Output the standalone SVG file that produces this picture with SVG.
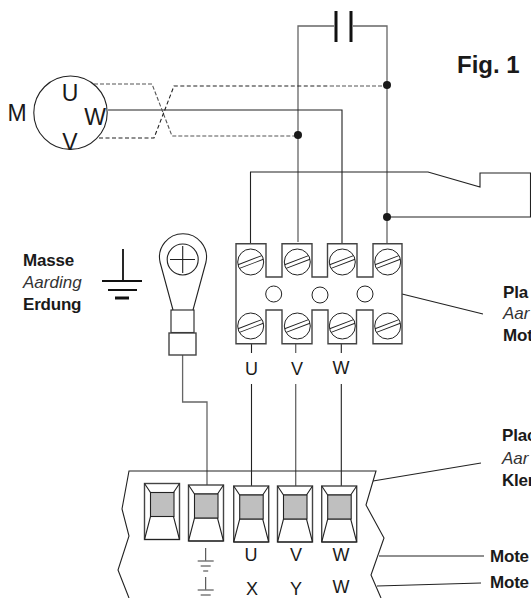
<svg xmlns="http://www.w3.org/2000/svg" xmlns:xlink="http://www.w3.org/1999/xlink" width="531" height="598" viewBox="0 0 531 598">
<style>
text{font-family:"Liberation Sans",Arial,sans-serif;fill:#1a1a1a}
.m{font-size:18px;text-anchor:middle}.c{font-size:23px;text-anchor:middle}
.b{font-size:17px;font-weight:bold;letter-spacing:-.2px}.i{font-size:17px;font-style:italic;fill:#333}
.w,.g,.d,.e{fill:none;stroke:#222;stroke-width:1.1}
.g{stroke:#666;stroke-width:1.3}.d{stroke:#222;stroke-dasharray:4 2.5}.e{stroke:#555;stroke-dasharray:4 2}
.s{fill:#fff;stroke:#222;stroke-width:1}
.sl{fill:none;stroke:#222;stroke-width:.9}
.dot{fill:#1a1a1a}
.in{fill:#bfbfbf;stroke:#222;stroke-width:1.1}
.o{fill:#fff;stroke:#444;stroke-width:1.4}
</style>
<defs>
<g id="screw"><circle class="s" r="13"/><g transform="rotate(-21)"><path class="sl" d="M-12.8-2H12.8M-12.8 2H12.8"/></g></g>
<g id="gnd"><path class="sl" d="M0 0V12.5M-8 13H8M-5 18H5M-2.500 23H2.500"/></g>
<g id="conn"><rect class="o" width="35" height="56"/><path class="w" d="M0 0L6 9H29L35 0M0 56L6 33H29L35 56M0 56H35"/><rect class="in" x="6" y="9" width="23.500" height="24"/></g>
</defs>
<g id="connectors">
<path class="g" d="M298 242V26H334M353 26H387V243"/>
<path class="w" d="M108 110H342V243"/>
<path class="w" d="M250.500 243V172H428L480 187V173H530.500V217H387"/>
<path class="e" d="M94 84H152L172 136H298"/>
<path class="d" d="M99 138H154L174 86H330"/>
<path class="e" d="M330 86H387"/>
<path class="w" d="M251.500 343V353M251.500 384V491"/>
<path class="g" d="M295.700 343V353M295.700 384V491"/>
<path class="w" d="M341.300 343V353M341.300 384V490"/>
<path class="g" d="M182.600 355V402H207V491"/>
<path class="w" d="M402 294L483 314M373 481L481 463M379 556H484M377 586L481 583"/>
</g>
<g id="capacitor"><path d="M336 11V42M351 11V42" fill="none" stroke="#111" stroke-width="3"/></g>
<g id="junctions"><circle class="dot" cx="298" cy="135" r="4"/><circle class="dot" cx="387" cy="85" r="4"/><circle class="dot" cx="387" cy="217" r="4"/></g>
<g id="motor"><circle class="w" cx="70.500" cy="112.700" r="36.700"/><text class="c" x="70" y="101">U</text><text class="c" x="95" y="125">W</text><text class="c" x="70" y="150">V</text><text class="c" x="17" y="121">M</text></g>
<text x="457" y="72.500" font-size="24" font-weight="bold">Fig. 1</text>
<g id="ground"><path d="M123 249V281M102 281H142M108 290H137" fill="none" stroke="#111" stroke-width="1.800"/><path d="M115 298H129" stroke="#111" stroke-width="3"/></g>
<g id="ground-label"><text class="b" x="23" y="266">Masse</text><text class="i" x="23" y="288">Aarding</text><text class="b" x="23" y="310">Erdung</text></g>
<g id="lug"><path class="w" d="M173 310L160 262A23.500 23.500 0 1 1 206 262L193 310"/><circle class="w" cx="182.700" cy="259.500" r="15.500"/><path class="w" d="M182.700 246V273M170 259.500H195"/><rect class="w" x="171" y="310" width="23" height="22.500"/><rect class="o" x="169" y="333" width="27" height="22"/></g>
<g id="terminal-block">
<path class="o" d="M236 243.700H266V277H282V243.700H312V277H327.500V243.700H357V277H373V243.700H402V343.700H373V310H356.500V343.700H328V310H312V343.700H282V310H266V343.700H236Z"/>
<use xlink:href="#screw" href="#screw" x="250.700" y="262"/><use xlink:href="#screw" href="#screw" x="297.300" y="262"/><use xlink:href="#screw" href="#screw" x="342.300" y="262"/><use xlink:href="#screw" href="#screw" x="387.700" y="262"/>
<use xlink:href="#screw" href="#screw" x="250.700" y="326"/><use xlink:href="#screw" href="#screw" x="297.300" y="326"/><use xlink:href="#screw" href="#screw" x="342.300" y="326"/><use xlink:href="#screw" href="#screw" x="387.700" y="326"/>
<circle class="s" cx="273.700" cy="294" r="8"/><circle class="s" cx="320" cy="295" r="8"/><circle class="s" cx="365" cy="294" r="8"/>
<text class="m" x="251.500" y="375">U</text><text class="m" x="297" y="375">V</text><text class="m" x="341" y="374">W</text>
</g>
<g id="block-label"><text class="b" x="503" y="298">Pla</text><text class="i" x="503" y="319">Aar</text><text class="b" x="503" y="341">Mot</text></g>
<g id="panel">
<path class="w" d="M129 598L118 570L129 536L122 509L129 471H376L366 505L384 538L371 575L381 598"/>
<use xlink:href="#conn" href="#conn" x="144.500" y="483.500"/><use xlink:href="#conn" href="#conn" x="188.500" y="485"/><use xlink:href="#conn" href="#conn" x="233.700" y="486"/><use xlink:href="#conn" href="#conn" x="277.500" y="486"/><use xlink:href="#conn" href="#conn" x="321.700" y="486"/>
<use xlink:href="#gnd" href="#gnd" x="205.700" y="548"/><use xlink:href="#gnd" href="#gnd" x="205.700" y="577"/>
<text class="m" x="251" y="561">U</text><text class="m" x="296" y="561">V</text><text class="m" x="341" y="561">W</text>
<text class="m" x="252" y="595">X</text><text class="m" x="296" y="595">Y</text><text class="m" x="341" y="593">W</text>
</g>
<g id="panel-label"><text class="b" x="502" y="441">Plac</text><text class="i" x="502" y="464">Aar</text><text class="b" x="502" y="486">Kler</text></g>
<g id="mote-labels"><text class="b" x="490" y="562">Mote</text><text class="b" x="490" y="588">Mote</text></g>
</svg>
